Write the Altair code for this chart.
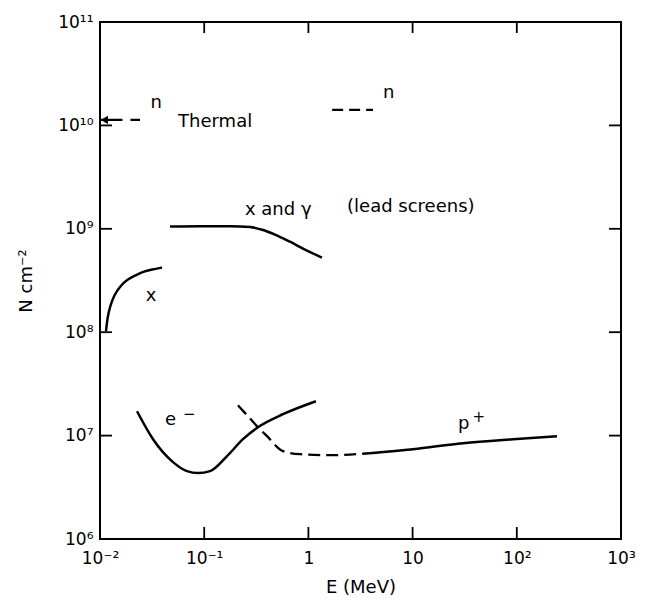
import altair as alt
import pandas as pd

# ---- data (E in MeV, N in cm^-2) ----
xray_E = [0.01142, 0.0118, 0.01247, 0.01362, 0.01556, 0.01816, 0.02168, 0.02587, 0.03155, 0.03936]
xray_N = [1.02e8, 1.39e8, 1.77e8, 2.27e8, 2.77e8, 3.23e8, 3.53e8, 3.86e8, 4.04e8, 4.22e8]

xg_E = [0.0470, 0.0912, 0.177, 0.275, 0.359, 0.478, 0.665, 0.927, 1.35]
xg_N = [1.05e9, 1.06e9, 1.06e9, 1.04e9, 9.8e8, 8.8e8, 7.5e8, 6.3e8, 5.27e8]

e_E = [0.02265, 0.0323, 0.0502, 0.0684, 0.0871, 0.1138, 0.1656, 0.2355, 0.328, 0.570, 1.18]
e_N = [1.72e7, 9.23e6, 5.54e6, 4.53e6, 4.34e6, 4.53e6, 6.33e6, 9.23e6, 1.205e7, 1.61e7, 2.15e7]

p_dash_E = [0.211, 0.263, 0.328, 0.401, 0.570, 0.830, 1.61, 3.90]
p_dash_N = [1.965e7, 1.54e7, 1.205e7, 9.87e6, 7.07e6, 6.61e6, 6.47e6, 6.76e6]
p_E = [3.90, 10.1, 30.5, 92.0, 243.0]
p_N = [6.76e6, 7.39e6, 8.45e6, 9.23e6, 9.87e6]

n_fast_E = [1.69, 4.17]
n_fast_N = [1.41e10, 1.41e10]
n_th_E = [0.0101, 0.0242]
n_th_N = [1.13e10, 1.13e10]
arrow_E = [0.0110]
arrow_N = [1.13e10]

x_ticks = [0.01, 0.1, 1, 10, 100, 1000]
x_tick_labels = ["10⁻²", "10⁻¹", "1", "10", "10²", "10³"]
y_ticks = [1e6, 1e7, 1e8, 1e9, 1e10, 1e11]
y_tick_labels = ["10⁶", "10⁷", "10⁸", "10⁹", "10¹⁰", "10¹¹"]
inner_x_ticks = [0.1, 1, 10, 100]
inner_y_ticks = [1e7, 1e8, 1e9, 1e10]

label_text = ["n", "Thermal", "n", "x and γ", "(lead screens)", "x", "e", "p"]
label_E = [0.0305, 0.0561, 5.20, 0.246, 2.35, 0.0275, 0.0421, 27.3]
label_N = [1.65e10, 1.08e10, 2.06e10, 1.53e9, 1.64e9, 2.22e8, 1.40e7, 1.30e7]

sup_text = ["−", "+"]
sup_E = [0.0625, 37.5]
sup_N = [1.62e7, 1.52e7]

W, H = 521, 517
FONT = "DejaVu Sans"


def ternary(vals, labs):
    expr = repr(labs[-1])
    for v, l in reversed(list(zip(vals[:-1], labs[:-1]))):
        expr = f"datum.value < {v * 3.1623} ? {l!r} : ({expr})"
    return expr


xs = alt.Scale(type="log", domain=[0.01, 1000], nice=False)
ys = alt.Scale(type="log", domain=[1e6, 1e11], nice=False)

x_enc = alt.X("E:Q", scale=xs, axis=alt.Axis(
    values=x_ticks, labelExpr=ternary(x_ticks, x_tick_labels), title="E (MeV)",
    ticks=False, domain=False, grid=False, labelPadding=11, titlePadding=12,
    labelFontSize=17, titleFontSize=18, labelFont=FONT, titleFont=FONT,
    titleFontWeight="normal", labelColor="black", titleColor="black",
    labelFlush=False))
y_enc = alt.Y("N:Q", scale=ys, axis=alt.Axis(
    values=y_ticks, labelExpr=ternary(y_ticks, y_tick_labels), title="N cm⁻²",
    ticks=False, domain=False, grid=False, labelPadding=7, titlePadding=22,
    labelFontSize=17, titleFontSize=18, labelFont=FONT, titleFont=FONT,
    titleFontWeight="normal", labelColor="black", titleColor="black",
    labelFlush=False))


def df(E, N):
    return pd.DataFrame({"E": E, "N": N})


def solid(E, N, interp="monotone"):
    return alt.Chart(df(E, N)).mark_line(color="black", strokeWidth=2.5, interpolate=interp).encode(x=x_enc, y=y_enc)


def dashed(E, N, dash):
    return alt.Chart(df(E, N)).mark_line(color="black", strokeWidth=2.3, strokeDash=dash,
                                         interpolate="monotone").encode(x=x_enc, y=y_enc)


layers = [
    solid(xray_E, xray_N, "basis"),
    solid(xg_E, xg_N),
    solid(e_E, e_N),
    dashed(p_dash_E, p_dash_N, [12, 6]),
    solid(p_E, p_N),
    dashed(n_fast_E, n_fast_N, [11, 6]),
    dashed(n_th_E, n_th_N, [22, 8, 10, 8]),
    alt.Chart(df(arrow_E, arrow_N)).mark_point(shape="triangle-left", filled=True, color="black",
                                               size=70, opacity=1).encode(x=x_enc, y=y_enc),
]

# inner tick marks on all four sides
tx = pd.DataFrame({"E": inner_x_ticks})
ty = pd.DataFrame({"N": inner_y_ticks})
layers += [
    alt.Chart(tx).mark_rule(color="black", strokeWidth=1.8).encode(x=x_enc, y=alt.value(H), y2=alt.value(H - 12)),
    alt.Chart(tx).mark_rule(color="black", strokeWidth=1.8).encode(x=x_enc, y=alt.value(0), y2=alt.value(11)),
    alt.Chart(ty).mark_rule(color="black", strokeWidth=1.8).encode(y=y_enc, x=alt.value(0), x2=alt.value(12)),
    alt.Chart(ty).mark_rule(color="black", strokeWidth=1.8).encode(y=y_enc, x=alt.value(W - 12), x2=alt.value(W)),
]

labels = pd.DataFrame({"E": label_E, "N": label_N, "t": label_text})
layers.append(
    alt.Chart(labels).mark_text(align="left", baseline="middle", font=FONT, fontSize=18, color="black")
    .encode(x=x_enc, y=y_enc, text="t:N")
)
sups = pd.DataFrame({"E": sup_E, "N": sup_N, "t": sup_text})
layers.append(
    alt.Chart(sups).mark_text(align="left", baseline="middle", font=FONT, fontSize=15, color="black")
    .encode(x=x_enc, y=y_enc, text="t:N")
)

chart = alt.layer(*layers).properties(
    width=W, height=H,
    autosize=alt.AutoSizeParams(type="none"),
    padding={"left": 100, "top": 22, "right": 35, "bottom": 65},
    background="white",
).configure_view(stroke="black", strokeWidth=2)

chart.save("out.html", embed_options={"renderer": "svg", "actions": False})
